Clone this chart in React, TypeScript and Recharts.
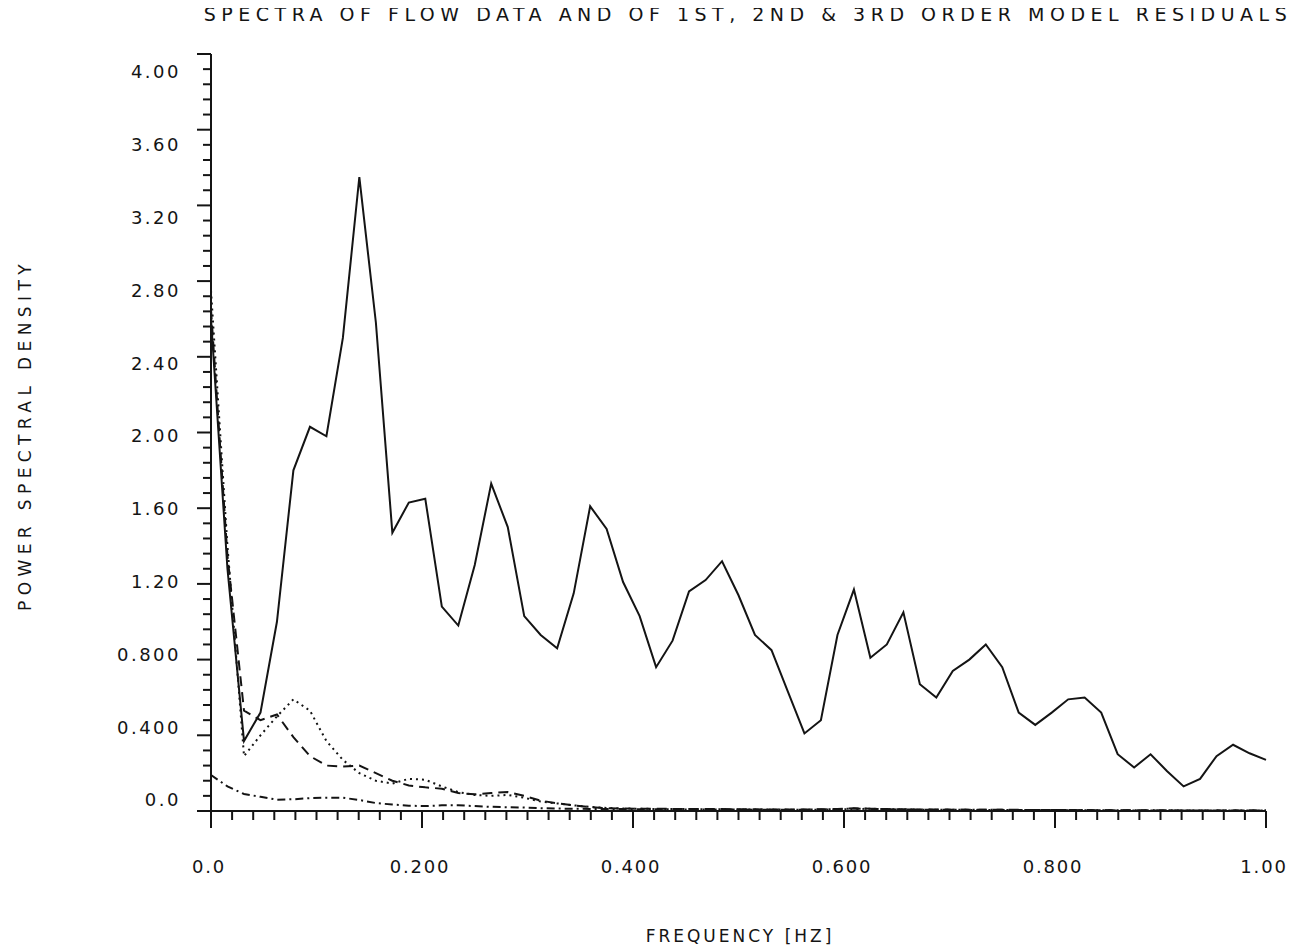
import { LineChart, Line, XAxis, YAxis } from 'recharts'

// frequency bins [Hz]
const FREQ = [
  0, 0.0156, 0.0313, 0.0469, 0.0625, 0.0781, 0.0938, 0.1094, 0.125, 0.1406,
  0.1563, 0.1719, 0.1875, 0.2031, 0.2188, 0.2344, 0.25, 0.2656, 0.2813, 0.2969,
  0.3125, 0.3281, 0.3438, 0.3594, 0.375, 0.3906, 0.4063, 0.4219, 0.4375, 0.4531,
  0.4688, 0.4844, 0.5, 0.5156, 0.5313, 0.5469, 0.5625, 0.5781, 0.5938, 0.6094,
  0.625, 0.6406, 0.6563, 0.6719, 0.6875, 0.7031, 0.7188, 0.7344, 0.75, 0.7656,
  0.7813, 0.7969, 0.8125, 0.8281, 0.8438, 0.8594, 0.875, 0.8906, 0.9063, 0.9219,
  0.9375, 0.9531, 0.9688, 0.9844, 1.0,
]

// flow data spectrum (solid)
const FLOW = [
  2.6, 1.28, 0.37, 0.52, 1.0, 1.8, 2.03, 1.98, 2.5, 3.35,
  2.58, 1.47, 1.63, 1.65, 1.08, 0.98, 1.3, 1.73, 1.5, 1.03,
  0.93, 0.86, 1.15, 1.61, 1.49, 1.21, 1.03, 0.76, 0.9, 1.16,
  1.22, 1.32, 1.14, 0.93, 0.85, 0.63, 0.41, 0.48, 0.93, 1.17,
  0.81, 0.88, 1.05, 0.67, 0.6, 0.74, 0.8, 0.88, 0.76, 0.52,
  0.455, 0.52, 0.59, 0.6, 0.52, 0.3, 0.23, 0.3, 0.21, 0.13,
  0.17, 0.29, 0.35, 0.305, 0.27,
]

// 1st order residuals (dotted)
const RES1 = [
  2.75, 1.4, 0.29, 0.4, 0.5, 0.59, 0.53, 0.37, 0.27, 0.2,
  0.16, 0.145, 0.17, 0.165, 0.13, 0.1, 0.085, 0.08, 0.085, 0.07,
  0.05, 0.04, 0.03, 0.022, 0.016, 0.013, 0.012, 0.011, 0.01, 0.01,
  0.009, 0.009, 0.008, 0.008, 0.008, 0.007, 0.007, 0.007, 0.008, 0.01,
  0.012, 0.01, 0.008, 0.007, 0.006, 0.006, 0.006, 0.005, 0.005, 0.005,
  0.005, 0.004, 0.004, 0.004, 0.004, 0.003, 0.003, 0.003, 0.003, 0.003,
  0.003, 0.002, 0.002, 0.002, 0.002,
]

// 2nd order residuals (dashed)
const RES2 = [
  2.65, 1.35, 0.53, 0.48, 0.51, 0.39, 0.29, 0.24, 0.235, 0.24,
  0.2, 0.16, 0.135, 0.125, 0.118, 0.095, 0.088, 0.095, 0.1, 0.08,
  0.055, 0.04, 0.03, 0.02, 0.015, 0.013, 0.012, 0.012, 0.011, 0.01,
  0.01, 0.01, 0.009, 0.009, 0.008, 0.008, 0.008, 0.009, 0.011, 0.014,
  0.012, 0.01, 0.009, 0.008, 0.008, 0.007, 0.007, 0.006, 0.006, 0.006,
  0.005, 0.005, 0.005, 0.004, 0.004, 0.004, 0.004, 0.003, 0.003, 0.003,
  0.003, 0.003, 0.002, 0.002, 0.002,
]

// 3rd order residuals (dash-dot)
const RES3 = [
  0.19, 0.13, 0.09, 0.075, 0.06, 0.062, 0.068, 0.07, 0.07, 0.058,
  0.042, 0.034, 0.028, 0.026, 0.03, 0.03, 0.026, 0.022, 0.02, 0.018,
  0.015, 0.013, 0.012, 0.011, 0.01, 0.01, 0.009, 0.009, 0.009, 0.008,
  0.008, 0.008, 0.008, 0.007, 0.007, 0.007, 0.007, 0.008, 0.01, 0.013,
  0.011, 0.009, 0.008, 0.007, 0.007, 0.006, 0.006, 0.006, 0.006, 0.005,
  0.005, 0.005, 0.005, 0.005, 0.004, 0.004, 0.004, 0.004, 0.004, 0.003,
  0.003, 0.003, 0.003, 0.003, 0.003,
]

const X_TICKS = [
  0, 0.02, 0.04, 0.06, 0.08, 0.1, 0.12, 0.14, 0.16, 0.18,
  0.2, 0.22, 0.24, 0.26, 0.28, 0.3, 0.32, 0.34, 0.36, 0.38,
  0.4, 0.42, 0.44, 0.46, 0.48, 0.5, 0.52, 0.54, 0.56, 0.58,
  0.6, 0.62, 0.64, 0.66, 0.68, 0.7, 0.72, 0.74, 0.76, 0.78,
  0.8, 0.82, 0.84, 0.86, 0.88, 0.9, 0.92, 0.94, 0.96, 0.98, 1.0,
]
const X_LABELS = ['0.0', '0.200', '0.400', '0.600', '0.800', '1.00']

const Y_TICKS = [
  0, 0.08, 0.16, 0.24, 0.32, 0.4, 0.48, 0.56, 0.64, 0.72,
  0.8, 0.88, 0.96, 1.04, 1.12, 1.2, 1.28, 1.36, 1.44, 1.52,
  1.6, 1.68, 1.76, 1.84, 1.92, 2.0, 2.08, 2.16, 2.24, 2.32,
  2.4, 2.48, 2.56, 2.64, 2.72, 2.8, 2.88, 2.96, 3.04, 3.12,
  3.2, 3.28, 3.36, 3.44, 3.52, 3.6, 3.68, 3.76, 3.84, 3.92, 4.0,
]
const Y_LABELS = ['0.0', '0.400', '0.800', '1.20', '1.60', '2.00', '2.40', '2.80', '3.20', '3.60', '4.00']

const data = FREQ.map((f, i) => ({
  f,
  flow: FLOW[i],
  res1: RES1[i],
  res2: RES2[i],
  res3: RES3[i],
}))

const FONT = '"DejaVu Sans", "Liberation Sans", sans-serif'
const INK = '#141414'

const W = 1294
const H = 940

// 10 minor steps of 0.02 between labelled x ticks
function XTick(props: any) {
  const { x, y, index } = props
  const major = index % 10 === 0
  return (
    <g>
      <line x1={x} y1={y} x2={x} y2={y + (major ? 17 : 9)} stroke={INK} strokeWidth={2} />
      {major && (
        <text x={x - 2} y={y + 62} textAnchor="middle" fontFamily={FONT} fontSize={18} letterSpacing={1.8} fill={INK}>
          {X_LABELS[index / 10]}
        </text>
      )}
    </g>
  )
}

// 5 minor steps of 0.08 between labelled y ticks; the plotted labels sit
// on a slightly tighter pitch than the ticks themselves
function YTick(props: any) {
  const { x, y, index } = props
  const major = index % 5 === 0
  return (
    <g>
      <line x1={x} y1={y} x2={x - (major ? 14 : 8)} y2={y} stroke={INK} strokeWidth={2} />
      {major && (
        <text x={x - 30} y={0.962 * y + 26} textAnchor="end" fontFamily={FONT} fontSize={18} letterSpacing={2.5} fill={INK}>
          {Y_LABELS[index / 5]}
        </text>
      )}
    </g>
  )
}

export default function App() {
  return (
    <div style={{ position: 'relative', width: W, height: H, background: '#fff' }}>
      <div
        style={{
          position: 'absolute',
          left: 0,
          width: W,
          top: -5,
          textAlign: 'center',
          paddingLeft: 186,
          boxSizing: 'border-box',
          whiteSpace: 'nowrap',
          fontFamily: FONT,
          fontSize: 19,
          lineHeight: '22px',
          letterSpacing: 5.5,
          color: INK,
        }}
      >
        SPECTRA OF FLOW DATA AND OF 1ST, 2ND &amp; 3RD ORDER MODEL RESIDUALS
      </div>
      <LineChart width={W} height={H} data={data} margin={{ top: 46, right: 36, left: 113, bottom: 77 }}>
        <XAxis
          type="number"
          dataKey="f"
          domain={[0, 1]}
          ticks={X_TICKS}
          interval={0}
          tickLine={false}
          tickSize={0}
          tickMargin={0}
          height={60}
          tick={<XTick />}
          axisLine={{ stroke: INK, strokeWidth: 2 }}
        />
        <YAxis
          type="number"
          domain={[0, 4]}
          ticks={Y_TICKS}
          interval={0}
          tickLine={false}
          tickSize={0}
          tickMargin={0}
          width={90}
          tick={<YTick />}
          axisLine={{ stroke: INK, strokeWidth: 2 }}
        />
        <Line type="linear" dataKey="res3" stroke={INK} strokeWidth={2} strokeDasharray="8 4 2 4" dot={false} isAnimationActive={false} />
        <Line type="linear" dataKey="res2" stroke={INK} strokeWidth={2} strokeDasharray="10 6" dot={false} isAnimationActive={false} />
        <Line type="linear" dataKey="res1" stroke={INK} strokeWidth={2} strokeDasharray="2 4" dot={false} isAnimationActive={false} />
        <Line type="linear" dataKey="flow" stroke={INK} strokeWidth={2} dot={false} isAnimationActive={false} />
      </LineChart>
      <svg width={W} height={H} style={{ position: 'absolute', left: 0, top: 0, pointerEvents: 'none' }}>
        <text
          x={23}
          y={427}
          textAnchor="middle"
          transform="rotate(-90 23 427)"
          fontFamily={FONT}
          fontSize={17}
          letterSpacing={5.4}
          fill={INK}
        >
          POWER SPECTRAL DENSITY
        </text>
        <text x={732} y={934} textAnchor="middle" fontFamily={FONT} fontSize={17} letterSpacing={3} fill={INK}>
          FREQUENCY [HZ]
        </text>
      </svg>
    </div>
  )
}
